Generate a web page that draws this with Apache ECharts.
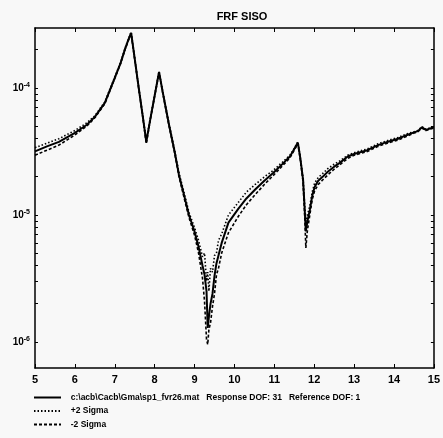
<!DOCTYPE html>
<html>
<head>
<meta charset="utf-8">
<script src="https://cdn.jsdelivr.net/npm/echarts@6/dist/echarts.min.js"></script>
<style>
html,body{margin:0;padding:0;background:#f8f8f8;}
#c{width:443px;height:438px;}
</style>
</head>
<body>
<div id="c"></div>
<script>
// Frequency (x values)
const freq = [5.0,5.3,5.6,6.0,6.3,6.5,6.75,7.0,7.15,7.25,7.33,7.41,7.5,7.6,7.7,7.79,7.9,8.0,8.11,8.2,8.36,8.5,8.61,8.75,8.86,9.0,9.1,9.2,9.25,9.3,9.33,9.36,9.4,9.45,9.5,9.55,9.6,9.68,9.85,10.1,10.3,10.52,10.75,10.97,11.2,11.39,11.5,11.59,11.65,11.72,11.76,11.79,11.83,11.89,11.95,12.01,12.1,12.21,12.34,12.5,12.64,12.84,13.0,13.33,13.6,13.83,14.1,14.33,14.5,14.6,14.7,14.8,15.0];
// log10 of FRF magnitude
const responseLog = [-4.50,-4.46,-4.425,-4.354,-4.29,-4.228,-4.118,-3.92,-3.80,-3.70,-3.63,-3.567,-3.77,-4.00,-4.22,-4.425,-4.23,-4.06,-3.874,-4.03,-4.29,-4.50,-4.685,-4.86,-5.00,-5.13,-5.25,-5.40,-5.47,-5.60,-5.89,-5.80,-5.70,-5.62,-5.48,-5.38,-5.32,-5.22,-5.06,-4.95,-4.87,-4.80,-4.73,-4.67,-4.60,-4.54,-4.48,-4.43,-4.55,-4.72,-4.95,-5.13,-5.05,-4.96,-4.85,-4.78,-4.73,-4.70,-4.66,-4.62,-4.59,-4.54,-4.52,-4.49,-4.45,-4.425,-4.40,-4.37,-4.35,-4.34,-4.31,-4.33,-4.31];
const plusSigmaLog = [-4.47,-4.435,-4.40,-4.335,-4.275,-4.22,-4.11,-3.915,-3.795,-3.695,-3.625,-3.56,-3.765,-3.995,-4.215,-4.41,-4.225,-4.055,-3.87,-4.025,-4.28,-4.49,-4.67,-4.84,-4.98,-5.10,-5.20,-5.33,-5.30,-5.52,-5.45,-5.60,-5.42,-5.45,-5.32,-5.30,-5.20,-5.15,-5.00,-4.90,-4.82,-4.76,-4.70,-4.65,-4.585,-4.53,-4.475,-4.425,-4.545,-4.71,-4.92,-5.05,-5.00,-4.93,-4.82,-4.75,-4.705,-4.675,-4.635,-4.60,-4.575,-4.53,-4.51,-4.48,-4.44,-4.415,-4.39,-4.36,-4.345,-4.335,-4.305,-4.325,-4.305];
const minusSigmaLog = [-4.53,-4.49,-4.45,-4.37,-4.30,-4.235,-4.125,-3.925,-3.805,-3.705,-3.635,-3.575,-3.775,-4.005,-4.225,-4.44,-4.235,-4.065,-3.88,-4.035,-4.30,-4.51,-4.70,-4.88,-5.02,-5.16,-5.30,-5.50,-5.68,-5.98,-6.02,-5.90,-5.85,-5.72,-5.62,-5.47,-5.42,-5.30,-5.14,-5.01,-4.92,-4.84,-4.76,-4.69,-4.615,-4.55,-4.49,-4.44,-4.56,-4.74,-5.00,-5.26,-5.12,-5.00,-4.88,-4.81,-4.76,-4.725,-4.685,-4.64,-4.605,-4.555,-4.53,-4.50,-4.46,-4.435,-4.41,-4.38,-4.355,-4.345,-4.315,-4.335,-4.315];

const xTicks = [5,6,7,8,9,10,11,12,13,14,15];
const yLabelValues = [1e-6,1e-5,1e-4];
const yMinorTickValues = [2e-6,3e-6,4e-6,5e-6,6e-6,7e-6,8e-6,9e-6,1e-5,2e-5,3e-5,4e-5,5e-5,6e-5,7e-5,8e-5,9e-5,1e-4,2e-4,1e-6];
const seriesNames = ['c:\\acb\\Cacb\\Gma\\sp1_fvr26.mat   Response DOF: 31   Reference DOF: 1', '+2 Sigma', '-2 Sigma'];

const toData = arr => freq.map((f, i) => [f, Math.pow(10, arr[i])]);
const yMin = Math.pow(10, -6.205), yMax = Math.pow(10, -3.528);
const font = 'Liberation Sans';

const chart = echarts.init(document.getElementById('c'), null, {renderer: 'canvas'});
const yAxisBase = {
  type: 'log', logBase: 10, min: yMin, max: yMax,
  axisLine: {show: true, lineStyle: {color: '#000', width: 1.5}},
  splitLine: {show: false},
  axisTick: {show: true, inside: true, length: 3, lineStyle: {color: '#000', width: 1}, customValues: yMinorTickValues}
};
chart.setOption({
  backgroundColor: '#f8f8f8',
  animation: false,
  title: {text: 'FRF SISO', left: 237, textAlign: 'center', top: 6,
    textStyle: {fontSize: 11, fontWeight: 'bold', color: '#000', fontFamily: font}},
  grid: {left: 35, right: 6, top: 28, bottom: 70},
  legend: {
    orient: 'vertical', left: 33, top: 393, padding: 0, itemWidth: 27, itemHeight: 8, itemGap: 4.5,
    height: 45,
    data: seriesNames,
    itemStyle: {opacity: 0},
    formatter: n => '  ' + n,
    textStyle: {fontSize: 8.5, color: '#000', fontFamily: font, fontWeight: 'bold'}
  },
  xAxis: [{
    type: 'value', min: 5, max: 15, interval: 1, position: 'bottom',
    axisLine: {show: true, onZero: false, lineStyle: {color: '#000', width: 1.5}},
    axisTick: {inside: true, length: 4, lineStyle: {color: '#000', width: 1}},
    splitLine: {show: false},
    axisLabel: {color: '#000', fontSize: 11, fontWeight: 'bold', fontFamily: font, margin: 6,
      customValues: xTicks, formatter: v => String(v)}
  }, {
    type: 'value', min: 5, max: 15, interval: 1, position: 'top',
    axisLine: {show: true, onZero: false, lineStyle: {color: '#000', width: 1.5}},
    axisTick: {inside: true, length: 4, lineStyle: {color: '#000', width: 1}},
    splitLine: {show: false}, axisLabel: {show: false}
  }],
  yAxis: [Object.assign({}, yAxisBase, {
    position: 'left',
    axisLabel: {
      customValues: yLabelValues, margin: 5, color: '#000', fontFamily: font,
      formatter: v => '{b|10}{s|' + Math.round(Math.log10(v)) + '}',
      rich: {
        b: {fontSize: 10, fontWeight: 'bold', color: '#000', fontFamily: font},
        s: {fontSize: 7, fontWeight: 'bold', color: '#000', fontFamily: font, verticalAlign: 'top', padding: [0, 0, 5, 0]}
      }
    }
  }), Object.assign({}, yAxisBase, {position: 'right', axisLabel: {show: false}})],
  series: [
    {name: seriesNames[0], type: 'line', data: toData(responseLog), symbol: 'none', z: 3,
      lineStyle: {color: '#000', width: 2}, itemStyle: {color: '#000'}},
    {name: seriesNames[1], type: 'line', data: toData(plusSigmaLog), symbol: 'none', z: 2,
      lineStyle: {color: '#000', width: 1.6, type: [1.5, 2]}, itemStyle: {color: '#000'}},
    {name: seriesNames[2], type: 'line', data: toData(minusSigmaLog), symbol: 'none', z: 2,
      lineStyle: {color: '#000', width: 1.6, type: [3, 2]}, itemStyle: {color: '#000'}}
  ]
});
</script>
</body>
</html>
